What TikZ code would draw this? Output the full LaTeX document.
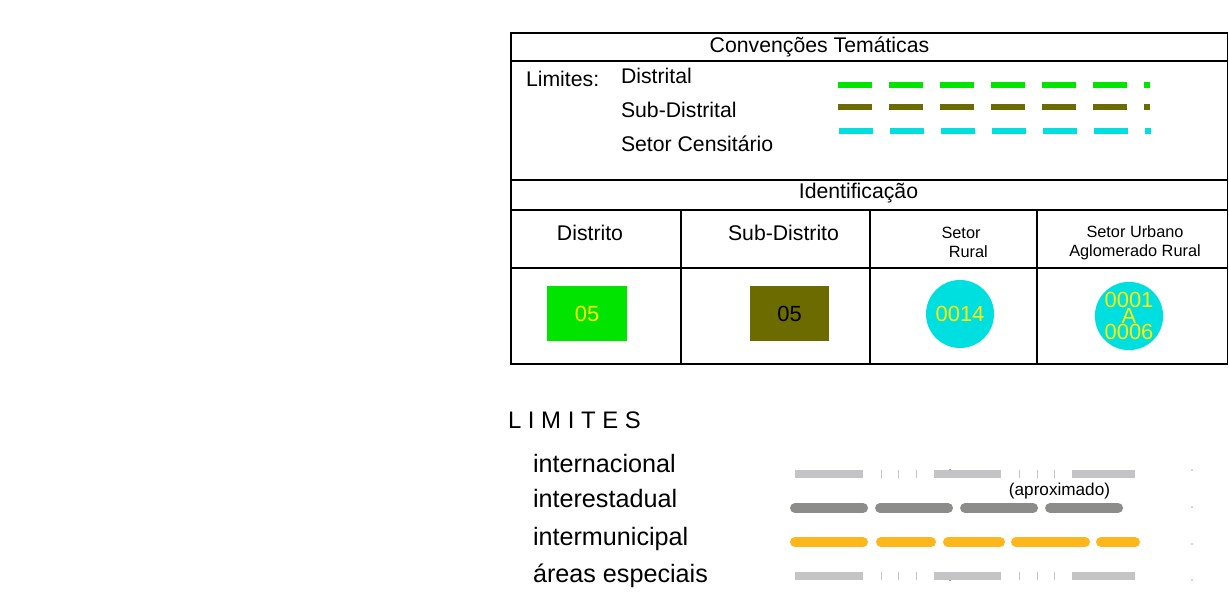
\documentclass[tikz,border=0pt]{standalone}
\usepackage{fontspec}
\setmainfont{Liberation Sans}
\usepackage{tikz}
\definecolor{distgreen}{RGB}{0,228,0}
\definecolor{subolive}{RGB}{107,107,0}
\definecolor{setorcyan}{RGB}{0,223,223}
\definecolor{limgray}{RGB}{196,196,198}
\definecolor{estgray}{RGB}{140,141,139}
\definecolor{munorange}{RGB}{253,183,28}

\begin{document}
\begin{tikzpicture}[x=0.025cm,y=-0.025cm,every node/.style={inner sep=0,outer sep=0},
	txt/.style={font=\fontsize{15.1}{16}\selectfont},
	smalltxt/.style={font=\fontsize{11.6}{13.5}\selectfont,align=center},
	bigtxt/.style={font=\fontsize{17.9}{20}\selectfont},
	numtxt/.style={font=\fontsize{15.6}{11.5}\selectfont,align=center},
	grid/.style={line width=1.3pt},
	convline/.style={line width=4.8pt,dash pattern=on 0.85cm off 0.425cm},
	idbox/.style={minimum width=1.975cm,minimum height=1.35cm,numtxt},
	setorcirc/.style={circle,fill=setorcyan,minimum size=1.7cm,numtxt,text=yellow},
	intline/.style={limgray,line width=5pt,dash pattern=on 1.6875cm off 0.45cm on 0.025cm off 0.4125cm on 0.025cm off 0.4125cm on 0.025cm off 0.425cm},
	estline/.style={estgray,line width=7.1pt,line cap=round,dash pattern=on 1.7cm off 0.425cm},
	munline/.style={munorange,line width=7.1pt,line cap=round}]
	\useasboundingbox (0,0) rectangle (1229,602);
	\fill[white] (0,0) rectangle (1229,602);
	% tabela
	\draw[grid] (511,33) rectangle (1227.5,364);
	\draw[grid] (511,61) -- (1227.5,61) (511,180) -- (1227.5,180)
		(511,210) -- (1227.5,210) (511,268) -- (1227.5,268);
	\foreach \x in {681,870,1037}
		\draw[grid] (\x,210) -- (\x,364);
	\node (conv) [txt,anchor=base] at (819.5,53) {Convenções Temáticas};
	\node (lim) [txt,anchor=base west] at (526,87) {Limites:};
	\node (dist) [txt,anchor=base west] at (621,83.5) {Distrital};
	\node (subdist) [txt,anchor=base west] at (621,117.5) {Sub-Distrital};
	\node (setor) [txt,anchor=base west] at (621,151.5) {Setor Censitário};
	\coordinate (dist-a) at (838,85);
	\coordinate (dist-b) at (1150,85);
	\coordinate (sub-a) at (838,107);
	\coordinate (sub-b) at (1150,107);
	\coordinate (set-a) at (839,131);
	\coordinate (set-b) at (1151,131);
	\draw[convline,distgreen] (dist-a) -- (dist-b);
	\draw[convline,subolive] (sub-a) -- (sub-b);
	\draw[convline,setorcyan] (set-a) -- (set-b);
	\node (ident) [txt,anchor=base] at (858.5,198.5) {Identificação};
	\node (hdist) [txt,anchor=base] at (590,240.5) {Distrito};
	\node (hsub) [txt,anchor=base] at (783.5,240.5) {Sub-Distrito};
	\node (hrural) [smalltxt] at (961,242) {Setor\\\hspace*{0.9em}Rural};
	\node (hurb) [smalltxt] at (1135,243) {Setor Urbano\\Aglomerado Rural};
	\node (dbox) [idbox,fill=distgreen,text=yellow] at (587,313.5) {05};
	\node (sbox) [idbox,fill=subolive,text=black] at (789.5,313.5) {05};
	\node (rural) [setorcirc] at (960,314) {0014};
	\node (aglom) [setorcirc] at (1129,316) {0001\\A\\0006};
	% limites
	\node (limites) [font=\fontsize{17}{20}\selectfont,anchor=base west] at (508,428) {L I M I T E S};
	\node (inter) [bigtxt,anchor=base west] at (533,472) {internacional};
	\node (est) [bigtxt,anchor=base west] at (533,507) {interestadual};
	\node (mun) [bigtxt,anchor=base west] at (533,545) {intermunicipal};
	\node (esp) [bigtxt,anchor=base west] at (533,582) {áreas especiais};
	\node (aprox) [font=\fontsize{12.2}{13}\selectfont] at (1059.5,491) {(aproximado)};
	\coordinate (int-a) at (795,474);
	\coordinate (int-b) at (1134.5,474);
	\coordinate (est-a) at (795,508);
	\coordinate (est-b) at (1119,508);
	\coordinate (esp-a) at (795,576);
	\coordinate (esp-b) at (1134.5,576);
	\draw[intline] (int-a) -- (int-b);
	\draw[estline] (est-a) -- (est-b);
	\foreach \a/\b in {795/863,881/931,948/1000,1016/1085,1101/1135}
		\draw[munline] (\a,542) -- (\b,542);
	\draw[intline] (esp-a) -- (esp-b);
	\foreach \y in {470,507,544,580}
		\fill[black!70] (1192,\y) circle (0.5pt);
	\fill[black!70] (950,469.5) circle (0.4pt) (950,580.5) circle (0.4pt);
\end{tikzpicture}
\end{document}
